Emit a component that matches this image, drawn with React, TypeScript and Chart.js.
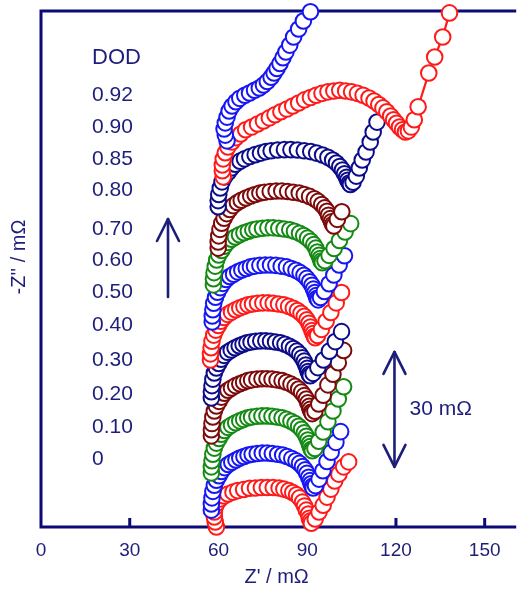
import React, { useEffect, useRef } from 'react';
import { Chart, registerables } from 'chart.js';

Chart.register(...registerables);

const FONT = "'Liberation Sans', Arial, Helvetica, sans-serif";
const INK = '#1d1d7a';
const AXIS = '#0b0b78';

const RED = '#ff1a1a';
const BLUE = '#1616f2';
const NAVY = '#0c0c8a';
const MAROON = '#7d0a0a';
const GREEN = '#148a14';

// Axis ticks (Z' in mΩ)
const xTicks = [0, 30, 60, 90, 120, 150];

// Depth-of-discharge labels, top to bottom
const dodLabels = ['0.92', '0.90', '0.85', '0.80', '0.70', '0.60', '0.50', '0.40', '0.30', '0.20', '0.10', '0'];

// Nyquist spectra [Z', -Z''] in mΩ, stacked vertically by DOD
const dod000: [number, number][] = [
  [59.3, 0], [58.9, 1.3], [58.6, 2.6], [58.6, 3.9], [58.9, 5.2], [59.6, 6.3], [60.6, 7.3], [61.9, 8.1],
  [63.2, 8.6], [64.9, 9.1], [66.5, 9.5], [68.5, 9.8], [70.5, 10.1], [72.5, 10.2], [74.5, 10.3], [76.5, 10.3],
  [78.5, 10.3], [80.5, 10.2], [82.1, 9.9], [83.8, 9.5], [85.1, 9.0], [86.4, 8.4], [87.4, 7.6], [88.4, 6.5],
  [89.1, 5.5], [89.7, 4.4], [90.4, 3.4], [90.7, 2.3], [91.1, 1.6], [91.4, 1.0], [92.7, 2.1], [94.0, 3.9],
  [95.4, 5.7], [96.7, 7.8], [98.0, 9.9], [99.3, 12.0], [100.7, 13.8], [102.3, 15.7], [104.0, 17.0],
];

const dod010: [number, number][] = [
  [57.6, 4.4], [57.6, 6.0], [57.8, 7.6], [58.1, 9.3], [58.6, 10.9], [59.3, 12.2], [60.2, 13.4], [61.0, 14.5],
  [62.1, 15.5], [63.3, 16.3], [64.5, 16.9], [65.9, 17.5], [67.2, 18.0], [68.6, 18.4], [70.0, 18.8], [71.4, 19.0],
  [73.1, 19.2], [74.8, 19.3], [76.5, 19.3], [78.2, 19.2], [80.0, 19.0], [81.7, 18.8], [83.2, 18.4], [84.8, 17.9],
  [86.2, 17.3], [87.4, 16.6], [88.4, 15.8], [89.3, 14.9], [89.9, 14.0], [90.5, 13.0], [91.0, 12.1], [91.3, 11.3],
  [91.7, 10.6], [92.0, 10.2], [92.8, 10.8], [94.0, 12.5], [95.3, 14.7], [96.7, 17.1], [98.1, 19.5], [99.7, 22.1],
  [101.3, 24.9],
];

const dod020: [number, number][] = [
  [57.6, 14.1], [57.6, 15.7], [57.8, 17.3], [58.1, 19.0], [58.6, 20.6], [59.3, 21.9], [60.2, 23.1], [61.0, 24.2],
  [62.0, 25.2], [63.2, 26.0], [64.4, 26.6], [65.8, 27.2], [67.2, 27.7], [68.5, 28.1], [69.9, 28.5], [71.2, 28.7],
  [73.0, 28.9], [74.7, 29.0], [76.4, 29.0], [78.1, 28.9], [79.8, 28.7], [81.5, 28.5], [83.0, 28.1], [84.5, 27.6],
  [85.9, 27.0], [87.1, 26.3], [88.1, 25.5], [89.0, 24.6], [89.7, 23.7], [90.2, 22.7], [90.7, 21.8], [91.0, 21.0],
  [91.4, 20.3], [91.7, 19.9], [92.6, 20.5], [93.9, 22.4], [95.4, 24.8], [97.0, 27.5], [98.7, 30.3], [100.5, 33.4],
  [102.3, 36.6],
];

const dod030: [number, number][] = [
  [57.6, 23.8], [57.6, 25.4], [57.8, 27.0], [58.1, 28.7], [58.6, 30.3], [59.3, 31.6], [60.2, 32.8], [61.0, 33.9],
  [62.0, 34.9], [63.2, 35.7], [64.4, 36.3], [65.8, 36.9], [67.2, 37.4], [68.5, 37.8], [69.9, 38.2], [71.2, 38.4],
  [73.0, 38.6], [74.7, 38.7], [76.4, 38.7], [78.1, 38.6], [79.8, 38.4], [81.5, 38.2], [83.0, 37.8], [84.5, 37.3],
  [85.9, 36.7], [87.1, 36.0], [88.1, 35.2], [89.0, 34.3], [89.7, 33.4], [90.2, 32.4], [90.7, 31.5], [91.0, 30.7],
  [91.4, 30.0], [91.7, 29.6], [92.6, 30.2], [93.9, 32.1], [95.4, 34.4], [97.0, 37.1], [98.7, 39.9], [100.5, 42.9],
  [102.3, 46.1],
];

const dod040: [number, number][] = [
  [57.6, 33.7], [57.6, 35.3], [57.8, 36.9], [58.1, 38.6], [58.6, 40.2], [59.3, 41.5], [60.1, 42.7], [60.9, 43.8],
  [61.9, 44.8], [63.1, 45.6], [64.3, 46.2], [65.6, 46.8], [67.0, 47.3], [68.3, 47.7], [69.6, 48.1], [71.0, 48.3],
  [72.6, 48.5], [74.3, 48.6], [76.0, 48.6], [77.6, 48.5], [79.3, 48.3], [81.0, 48.1], [82.5, 47.7], [84.0, 47.2],
  [85.3, 46.6], [86.5, 45.9], [87.5, 45.1], [88.3, 44.2], [89.0, 43.3], [89.5, 42.3], [90.0, 41.4], [90.3, 40.6],
  [90.7, 39.9], [91.0, 39.5], [92.0, 40.1], [93.6, 41.6], [95.5, 43.6], [97.5, 45.9], [99.5, 48.4], [101.6, 51.0],
];

const dod050: [number, number][] = [
  [57.3, 43.6], [57.3, 45.2], [57.5, 46.8], [57.8, 48.5], [58.4, 50.1], [59.1, 51.4], [60.0, 52.6], [60.8, 53.7],
  [61.9, 54.7], [63.1, 55.5], [64.4, 56.1], [65.8, 56.7], [67.2, 57.2], [68.6, 57.6], [70.0, 58.0], [71.5, 58.2],
  [73.2, 58.4], [75.0, 58.5], [76.8, 58.5], [78.5, 58.4], [80.3, 58.2], [82.1, 58.0], [83.7, 57.6], [85.3, 57.1],
  [86.7, 56.5], [87.9, 55.8], [89.0, 55.0], [89.9, 54.1], [90.6, 53.2], [91.1, 52.2], [91.6, 51.3], [92.0, 50.5],
  [92.4, 49.8], [92.7, 49.4], [93.5, 50.0], [94.8, 51.6], [96.4, 53.7], [98.0, 56.0], [99.8, 58.5], [101.6, 61.2],
];

const dod060: [number, number][] = [
  [57.9, 53.5], [57.9, 55.1], [58.1, 56.7], [58.4, 58.4], [59.0, 60.0], [59.7, 61.3], [60.6, 62.5], [61.5, 63.6],
  [62.6, 64.6], [63.8, 65.4], [65.1, 66.0], [66.5, 66.6], [67.9, 67.1], [69.4, 67.5], [70.8, 67.9], [72.2, 68.1],
  [74.0, 68.3], [75.8, 68.4], [77.6, 68.4], [79.4, 68.3], [81.2, 68.1], [83.0, 67.9], [84.6, 67.5], [86.2, 67.0],
  [87.6, 66.4], [88.9, 65.7], [89.9, 64.9], [90.8, 64.0], [91.6, 63.1], [92.1, 62.1], [92.6, 61.2], [93.0, 60.4],
  [93.3, 59.7], [93.7, 59.3], [94.5, 59.9], [95.8, 61.5], [97.4, 63.5], [99.0, 65.8], [100.8, 68.4], [102.6, 70.8],
];

const dod070: [number, number][] = [
  [58.3, 63.2], [58.3, 64.8], [58.5, 66.4], [58.9, 68.1], [59.4, 69.7], [60.1, 71.0], [61.1, 72.2], [62.0, 73.3],
  [63.1, 74.3], [64.4, 75.1], [65.7, 75.7], [67.1, 76.3], [68.6, 76.8], [70.1, 77.2], [71.6, 77.6], [73.0, 77.8],
  [74.9, 78.0], [76.7, 78.1], [78.5, 78.1], [80.4, 78.0], [82.2, 77.8], [84.1, 77.6], [85.7, 77.2], [87.4, 76.7],
  [88.8, 76.1], [90.1, 75.4], [91.2, 74.6], [92.2, 73.7], [92.9, 72.8], [93.4, 71.8], [94.0, 70.9], [94.4, 70.1],
  [94.7, 69.4], [95.1, 69.0], [96.0, 69.5], [97.4, 70.9], [99.1, 72.7], [100.9, 74.8], [102.8, 77.0], [104.7, 79.2],
];

const dod080: [number, number][] = [
  [59.9, 72.8], [59.9, 74.4], [60.1, 76.0], [60.5, 77.7], [61.1, 79.3], [61.9, 80.6], [62.8, 81.8], [63.8, 82.9],
  [65.0, 83.9], [66.4, 84.7], [67.7, 85.3], [69.3, 85.9], [70.9, 86.4], [72.4, 86.8], [74.0, 87.2], [75.5, 87.4],
  [77.5, 87.6], [79.5, 87.7], [81.4, 87.7], [83.4, 87.6], [85.3, 87.4], [87.3, 87.2], [89.0, 86.8], [90.8, 86.3],
  [92.4, 85.7], [93.7, 85.0], [94.9, 84.2], [95.9, 83.3], [96.7, 82.4], [97.2, 81.4], [97.8, 80.5], [98.2, 79.7],
  [98.6, 79.0], [99.0, 78.6], [100.2, 80.3], [101.7, 82.3],
];

const dod085: [number, number][] = [
  [59.9, 83.6], [59.9, 85.2], [60.1, 86.8], [60.6, 88.5], [61.2, 90.1], [62.1, 91.4], [63.3, 92.6], [64.4, 93.7],
  [65.7, 94.7], [67.3, 95.5], [68.8, 96.1], [70.6, 96.7], [72.4, 97.2], [74.2, 97.6], [76.0, 98.0], [77.8, 98.2],
  [80.0, 98.4], [82.3, 98.5], [84.5, 98.5], [86.7, 98.4], [89.0, 98.2], [91.2, 98.0], [93.2, 97.6], [95.2, 97.1],
  [97.0, 96.5], [98.6, 95.8], [99.9, 95.0], [101.0, 94.1], [101.9, 93.2], [102.6, 92.2], [103.3, 91.3], [103.7, 90.5],
  [104.2, 89.8], [104.6, 89.4], [105.5, 90.0], [106.6, 91.6], [107.6, 93.7], [108.6, 95.8], [109.9, 97.9],
  [111.3, 100.5], [112.3, 103.1], [113.6, 105.7],
];

const dod090: [number, number][] = [
  [61.6, 91.4], [61.3, 93.0], [61.3, 94.5], [61.6, 96.1], [62.3, 97.7], [63.2, 99.2], [64.6, 100.5], [65.9, 101.6],
  [67.5, 102.6], [69.2, 103.7], [71.2, 104.4], [73.2, 105.2], [75.2, 106.0], [77.2, 106.8], [79.1, 107.6],
  [81.1, 108.4], [83.1, 109.1], [85.1, 109.9], [87.1, 110.7], [89.1, 111.5], [91.1, 112.1], [93.0, 112.7],
  [95.0, 113.2], [97.0, 113.6], [99.0, 113.8], [101.0, 114.0], [103.0, 113.8], [105.0, 113.6], [107.0, 113.2],
  [108.9, 112.7], [110.9, 112.0], [112.6, 111.2], [114.2, 110.3], [115.6, 109.4], [116.9, 108.4], [118.2, 107.3],
  [119.2, 106.3], [120.2, 105.4], [121.2, 104.4], [122.2, 103.7], [123.2, 103.1], [124.2, 103.4], [125.2, 104.4],
  [126.2, 106.3], [127.5, 109.7], [131.1, 118.5], [133.1, 122.7], [135.8, 127.9], [138.1, 134.2],
];

const dod092: [number, number][] = [
  [62.9, 100.8], [62.3, 102.3], [61.9, 103.9], [62.3, 105.5], [62.9, 107.0], [63.6, 108.6], [64.6, 109.9],
  [65.9, 111.0], [67.2, 111.9], [68.9, 112.7], [70.5, 113.3], [72.2, 114.0], [73.8, 114.6], [75.2, 115.4],
  [76.5, 116.3], [77.8, 117.4], [78.8, 118.5], [79.8, 119.7], [80.8, 121.0], [81.8, 122.5], [82.8, 124.0],
  [84.1, 125.8], [85.4, 127.9], [87.1, 130.0], [88.7, 132.1], [91.1, 134.5],
];

const series = [
  { dod: '0', points: dod000, color: RED },
  { dod: '0.10', points: dod010, color: BLUE },
  { dod: '0.20', points: dod020, color: GREEN },
  { dod: '0.30', points: dod030, color: MAROON },
  { dod: '0.40', points: dod040, color: NAVY },
  { dod: '0.50', points: dod050, color: RED },
  { dod: '0.60', points: dod060, color: BLUE },
  { dod: '0.70', points: dod070, color: GREEN },
  { dod: '0.80', points: dod080, color: MAROON },
  { dod: '0.85', points: dod085, color: NAVY },
  { dod: '0.90', points: dod090, color: RED },
  { dod: '0.92', points: dod092, color: BLUE },
];

// Plot frame (top, left, bottom) with inward x tick marks, under the data
const framePlugin = {
  id: 'frame',
  beforeDatasetsDraw(chart: any) {
    const { ctx, chartArea: a, scales } = chart;
    const x = scales.x;
    ctx.save();
    ctx.strokeStyle = AXIS;
    ctx.lineWidth = 3;
    ctx.lineCap = 'butt';
    ctx.beginPath();
    ctx.moveTo(a.right + 4, a.top);
    ctx.lineTo(a.left, a.top);
    ctx.lineTo(a.left, a.bottom);
    ctx.lineTo(a.right + 4, a.bottom);
    ctx.stroke();
    ctx.beginPath();
    for (const v of xTicks) {
      if (v === 0) continue;
      const px = x.getPixelForValue(v);
      ctx.moveTo(px, a.bottom);
      ctx.lineTo(px, a.bottom - 9);
    }
    ctx.stroke();
    ctx.restore();
  },
};

// Label column positions (canvas px)
const labelLeft = 92;
const dodHeaderY = 58;
const dodLabelY = [95, 127, 159, 190, 229, 260, 292, 325, 360, 394, 427, 459];

function arrowHead(ctx: CanvasRenderingContext2D, x: number, tipY: number, dir: number) {
  ctx.beginPath();
  ctx.moveTo(x - 11, tipY + dir * 22);
  ctx.lineTo(x, tipY);
  ctx.lineTo(x + 11, tipY + dir * 22);
  ctx.stroke();
}

const notesPlugin = {
  id: 'notes',
  afterDraw(chart: any) {
    const { ctx, scales } = chart;
    const x = scales.x;
    const y = scales.y;
    ctx.save();
    ctx.fillStyle = INK;
    ctx.strokeStyle = INK;

    // y axis title
    ctx.save();
    ctx.translate(19, 257);
    ctx.rotate(-Math.PI / 2);
    ctx.font = `20px ${FONT}`;
    ctx.textAlign = 'center';
    ctx.textBaseline = 'middle';
    ctx.fillText("-Z'' / mΩ", 0, 0);
    ctx.restore();

    // DOD column
    ctx.textAlign = 'left';
    ctx.textBaseline = 'middle';
    ctx.font = `22px ${FONT}`;
    ctx.fillText('DOD', labelLeft, dodHeaderY);
    ctx.font = `21px ${FONT}`;
    dodLabels.forEach((t, i) => ctx.fillText(t, labelLeft, dodLabelY[i]));

    // direction of increasing DOD
    ctx.lineWidth = 2.6;
    ctx.lineCap = 'round';
    ctx.lineJoin = 'round';
    ctx.beginPath();
    ctx.moveTo(168, 297);
    ctx.lineTo(168, 219);
    ctx.stroke();
    arrowHead(ctx, 168, 219, 1);

    // 30 mΩ scale bar
    const bx = x.getPixelForValue(119.5);
    const y0 = y.getPixelForValue(15.7);
    const y1 = y.getPixelForValue(45.7);
    ctx.beginPath();
    ctx.moveTo(bx, y0);
    ctx.lineTo(bx, y1);
    ctx.stroke();
    arrowHead(ctx, bx, y1, 1);
    arrowHead(ctx, bx, y0, -1);
    ctx.font = `21px ${FONT}`;
    ctx.fillText('30 mΩ', bx + 15, (y0 + y1) / 2);
    ctx.restore();
  },
};

export default function App() {
  const ref = useRef<HTMLCanvasElement | null>(null);

  useEffect(() => {
    const canvas = ref.current;
    if (!canvas) return;
    const n = series.length;
    const chart = new Chart(canvas, {
      type: 'scatter',
      data: {
        datasets: series.map((s, i) => ({
          label: s.dod,
          data: s.points.map(([zr, zi]) => ({ x: zr, y: zi })),
          showLine: true,
          borderColor: s.color,
          borderWidth: 2.2,
          pointRadius: 7.8,
          pointBorderWidth: 2,
          pointBackgroundColor: '#ffffff',
          pointBorderColor: s.color,
          pointStyle: 'circle',
          clip: false,
          order: n - 1 - i,
        })),
      },
      options: {
        animation: false,
        responsive: false,
        devicePixelRatio: 1,
        events: [],
        layout: { padding: { left: 41, top: 11, right: 0, bottom: 0 } },
        plugins: { legend: { display: false }, tooltip: { enabled: false } },
        scales: {
          x: {
            type: 'linear',
            position: 'bottom',
            min: 0,
            max: 159.3,
            afterBuildTicks: (s: any) => {
              s.ticks = xTicks.map((v) => ({ value: v }));
            },
            afterFit: (s: any) => {
              s.height = 62;
            },
            grid: { display: false, drawTicks: false },
            border: { display: false },
            ticks: {
              color: INK,
              font: { family: FONT, size: 19 },
              padding: 12,
              maxRotation: 0,
              autoSkip: false,
            },
            title: {
              display: true,
              text: "Z' / mΩ",
              color: INK,
              font: { family: FONT, size: 20 },
              padding: { top: 0, bottom: 0 },
            },
          },
          y: { type: 'linear', min: 0, max: 134.7, display: false },
        },
      },
      plugins: [framePlugin, notesPlugin],
    } as any);
    return () => chart.destroy();
  }, []);

  return (
    <div style={{ position: 'absolute', left: 0, top: 0, width: 522, height: 589, background: '#ffffff' }}>
      <canvas ref={ref} width={522} height={589} style={{ display: 'block' }} />
    </div>
  );
}
